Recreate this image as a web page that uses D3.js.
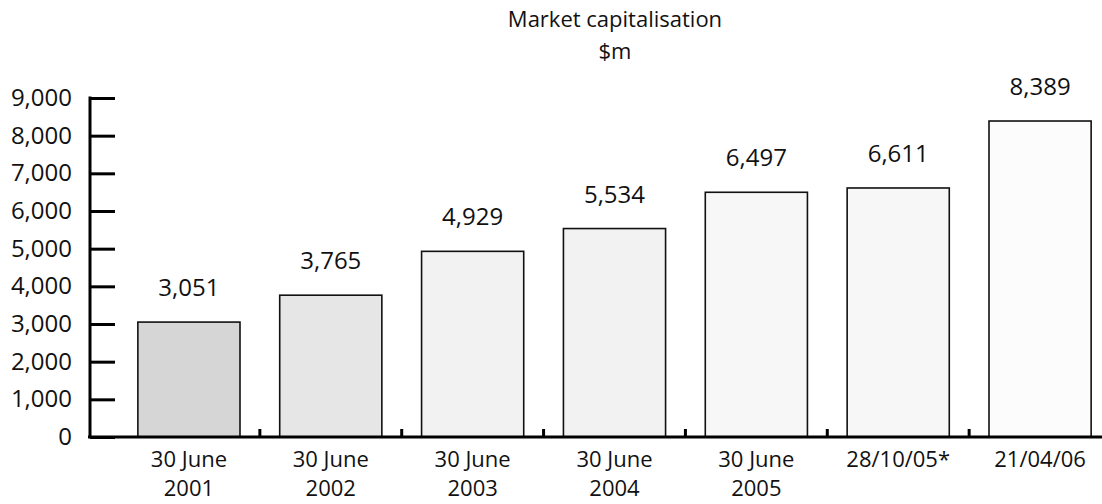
<!DOCTYPE html>
<html>
<head>
<meta charset="utf-8">
<script src="https://cdn.jsdelivr.net/npm/d3@7"></script>
<style>
  body { margin: 0; background: #fff; }
  svg text { font-family: "Open Sans", sans-serif; fill: #111; }
</style>
</head>
<body>
<svg id="chart"></svg>
<script>
// data
const dates = ["30 June|2001", "30 June|2002", "30 June|2003", "30 June|2004", "30 June|2005", "28/10/05*", "21/04/06"];
const marketCap = [3051, 3765, 4929, 5534, 6497, 6611, 8389];
const barFills = ["#d6d6d6", "#e6e6e6", "#f2f2f2", "#f2f2f2", "#f7f7f7", "#f7f7f7", "#fcfcfc"];
const yTicks = [0, 1000, 2000, 3000, 4000, 5000, 6000, 7000, 8000, 9000];

const width = 1102, height = 504;
const svg = d3.select("#chart").attr("width", width).attr("height", height);

const x = d3.scaleBand()
    .domain(dates)
    .range([118, 1111])
    .paddingInner(0.28)
    .paddingOuter(0.14);

const y = d3.scaleLinear()
    .domain([0, 9000])
    .range([437, 98]);

// title
svg.append("text")
    .attr("x", 615).attr("y", 27)
    .attr("text-anchor", "middle")
    .attr("font-size", "22px")
    .text("Market capitalisation");
svg.append("text")
    .attr("x", 615).attr("y", 59)
    .attr("text-anchor", "middle")
    .attr("font-size", "22px")
    .text("$m");

// bars
svg.append("g")
    .selectAll("rect")
    .data(marketCap)
    .enter()
    .append("rect")
    .attr("x", (d, i) => x(dates[i]))
    .attr("y", d => y(d))
    .attr("width", x.bandwidth())
    .attr("height", d => y(0) - y(d))
    .attr("fill", (d, i) => barFills[i])
    .attr("stroke", "#111")
    .attr("stroke-width", 1.6);

// value labels
svg.append("g")
    .selectAll("text")
    .data(marketCap)
    .enter()
    .append("text")
    .attr("x", (d, i) => x(dates[i]) + x.bandwidth() / 2)
    .attr("y", d => y(d) - 26)
    .attr("text-anchor", "middle")
    .attr("font-size", "24px")
    .text(d => d3.format(",")(d));

// y axis
const yAxis = svg.append("g")
    .attr("transform", "translate(90,0)")
    .call(d3.axisRight(y).tickValues(yTicks).tickSize(25).tickFormat(""));
yAxis.select(".domain").remove();
yAxis.selectAll(".tick line").attr("stroke", "#000").attr("stroke-width", 3);
svg.append("line")
    .attr("x1", 90).attr("x2", 90)
    .attr("y1", y(9000) - 1.5).attr("y2", y(0))
    .attr("stroke", "#000").attr("stroke-width", 3);

svg.append("g")
    .selectAll("text")
    .data(yTicks)
    .enter()
    .append("text")
    .attr("x", 72)
    .attr("y", d => y(d) + 8)
    .attr("text-anchor", "end")
    .attr("font-size", "24px")
    .text(d => d3.format(",")(d));

// x axis baseline with small ticks between bars
svg.append("line")
    .attr("x1", 88).attr("x2", width)
    .attr("y1", y(0)).attr("y2", y(0))
    .attr("stroke", "#000").attr("stroke-width", 3);

const step = x.step();
svg.append("g")
    .selectAll("line")
    .data(dates.slice(0, -1))
    .enter()
    .append("line")
    .attr("x1", d => x(d) + x.bandwidth() + (step - x.bandwidth()) / 2)
    .attr("x2", d => x(d) + x.bandwidth() + (step - x.bandwidth()) / 2)
    .attr("y1", y(0)).attr("y2", y(0) - 8)
    .attr("stroke", "#000").attr("stroke-width", 3);

// category labels
const cat = svg.append("g")
    .selectAll("text")
    .data(dates)
    .enter()
    .append("text")
    .attr("x", d => x(d) + x.bandwidth() / 2)
    .attr("y", 467)
    .attr("text-anchor", "middle")
    .attr("font-size", "22px");
cat.selectAll("tspan")
    .data(d => d.split("|"))
    .enter()
    .append("tspan")
    .attr("x", function () { return d3.select(this.parentNode).attr("x"); })
    .attr("dy", (d, i) => i === 0 ? 0 : 29)
    .text(d => d);
</script>
</body>
</html>
